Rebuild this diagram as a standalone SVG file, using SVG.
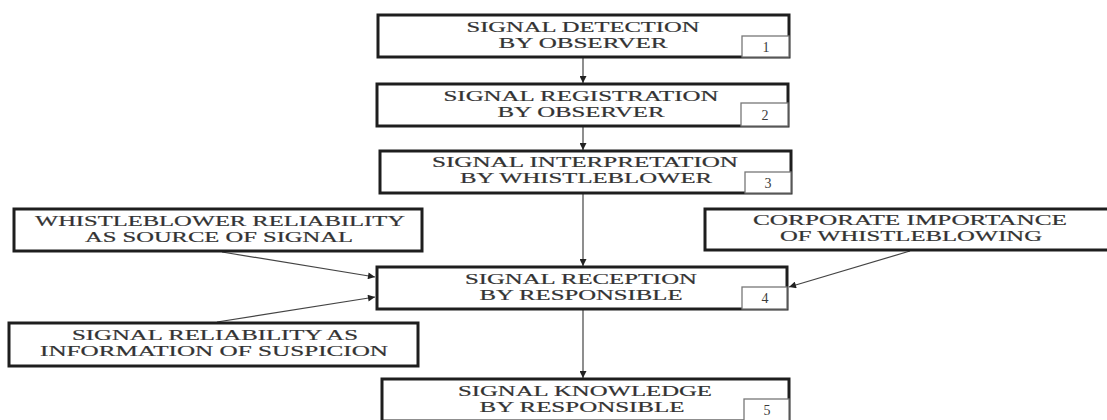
<svg xmlns="http://www.w3.org/2000/svg" width="1107" height="420" viewBox="0 0 1107 420">
<style>
.box{fill:#fff;stroke:#1e1e1e;stroke-width:3}
.num{fill:#fff;stroke:#777;stroke-width:1.3}
.t{font-family:"Liberation Serif","Times New Roman",serif;font-size:14.5px;fill:#333;stroke:#333;stroke-width:0.2;text-anchor:middle}
.n{font-family:"Liberation Serif","Times New Roman",serif;font-size:14px;fill:#3c3c3c;text-anchor:middle}
.c{stroke:#444;stroke-width:1.2;fill:none;marker-end:url(#ah)}
</style>
<defs>
<marker id="ah" viewBox="0 0 10 10" refX="10" refY="5" markerWidth="8" markerHeight="7" markerUnits="userSpaceOnUse" orient="auto">
<path d="M0,0 L10,5 L0,10 z" fill="#222"/>
</marker>
</defs>
<rect width="1107" height="420" fill="#fff"/>
<g id="connectors">
<line class="c" x1="583" y1="58" x2="583" y2="83"/>
<line class="c" x1="583" y1="127" x2="583" y2="150"/>
<line class="c" x1="583" y1="194" x2="583" y2="266"/>
<line class="c" x1="583" y1="310" x2="583" y2="378"/>
<line class="c" x1="222" y1="252" x2="375" y2="277"/>
<line class="c" x1="217" y1="322" x2="375" y2="297"/>
<line class="c" x1="910" y1="251" x2="789" y2="287"/>
</g>
<g id="n1">
<rect class="box" x="378" y="15" width="411" height="42"/>
<rect class="num" x="742" y="36" width="47" height="21"/>
<text class="t" x="583" y="32" textLength="233" lengthAdjust="spacingAndGlyphs">SIGNAL DETECTION</text>
<text class="t" x="583" y="47.5" textLength="169" lengthAdjust="spacingAndGlyphs">BY OBSERVER</text>
<text class="n" x="766" y="52">1</text>
</g>
<g id="n2">
<rect class="box" x="377" y="84" width="411" height="42"/>
<rect class="num" x="741" y="103" width="47" height="23"/>
<text class="t" x="581" y="101" textLength="275" lengthAdjust="spacingAndGlyphs">SIGNAL REGISTRATION</text>
<text class="t" x="581" y="116.5" textLength="167" lengthAdjust="spacingAndGlyphs">BY OBSERVER</text>
<text class="n" x="765" y="120">2</text>
</g>
<g id="n3">
<rect class="box" x="380" y="151" width="411" height="42"/>
<rect class="num" x="745" y="172" width="46" height="21"/>
<text class="t" x="585" y="167" textLength="306" lengthAdjust="spacingAndGlyphs">SIGNAL INTERPRETATION</text>
<text class="t" x="586" y="182.5" textLength="252" lengthAdjust="spacingAndGlyphs">BY WHISTLEBLOWER</text>
<text class="n" x="768" y="188">3</text>
</g>
<g id="n4">
<rect class="box" x="377" y="267" width="410" height="42"/>
<rect class="num" x="742" y="287" width="45" height="22"/>
<text class="t" x="581" y="284" textLength="232" lengthAdjust="spacingAndGlyphs">SIGNAL RECEPTION</text>
<text class="t" x="581" y="299.5" textLength="203" lengthAdjust="spacingAndGlyphs">BY RESPONSIBLE</text>
<text class="n" x="765" y="303">4</text>
</g>
<g id="n5">
<rect class="box" x="382" y="379" width="407" height="42"/>
<rect class="num" x="744" y="399" width="45" height="22"/>
<text class="t" x="585" y="396" textLength="254" lengthAdjust="spacingAndGlyphs">SIGNAL KNOWLEDGE</text>
<text class="t" x="582" y="411.5" textLength="205" lengthAdjust="spacingAndGlyphs">BY RESPONSIBLE</text>
<text class="n" x="767" y="415">5</text>
</g>
<g id="whistleblower-reliability">
<rect class="box" x="14" y="209" width="408" height="42"/>
<text class="t" x="220" y="226" textLength="370" lengthAdjust="spacingAndGlyphs">WHISTLEBLOWER RELIABILITY</text>
<text class="t" x="219" y="241.5" textLength="268" lengthAdjust="spacingAndGlyphs">AS SOURCE OF SIGNAL</text>
</g>
<g id="signal-reliability">
<rect class="box" x="9" y="323" width="409" height="43"/>
<text class="t" x="215" y="340" textLength="286" lengthAdjust="spacingAndGlyphs">SIGNAL RELIABILITY AS</text>
<text class="t" x="214" y="355.5" textLength="348" lengthAdjust="spacingAndGlyphs">INFORMATION OF SUSPICION</text>
</g>
<g id="corporate-importance">
<rect class="box" x="705" y="209" width="410" height="41"/>
<text class="t" x="910" y="225" textLength="314" lengthAdjust="spacingAndGlyphs">CORPORATE IMPORTANCE</text>
<text class="t" x="911" y="240.5" textLength="262" lengthAdjust="spacingAndGlyphs">OF WHISTLEBLOWING</text>
</g>
</svg>
